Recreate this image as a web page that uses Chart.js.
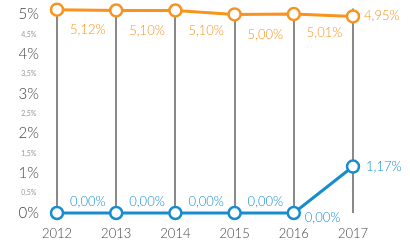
<!DOCTYPE html>
<html>
<head>
<meta charset="utf-8">
<script src="https://cdn.jsdelivr.net/npm/chart.js@4/dist/chart.umd.min.js"></script>
<style>
  html, body { margin: 0; padding: 0; background: #fff; }
  #wrap { width: 410px; height: 240px; }
</style>
</head>
<body>
<div id="wrap"><canvas id="grafico"></canvas></div>
<script>
const anos = ['2012', '2013', '2014', '2015', '2016', '2017'];
const serieLaranja = [5.12, 5.10, 5.10, 5.00, 5.01, 4.95];
const serieAzul = [0.00, 0.00, 0.00, 0.00, 0.00, 1.17];
const ticksY = [0, 0.5, 1, 1.5, 2, 2.5, 3, 3.5, 4, 4.5, 5];

const LARANJA = '#f7931e';
const AZUL = '#178dd0';

function formatarPct(v) {
    return v.toFixed(2).replace('.', ',') + '%';
}

// deslocamento de cada rótulo em relação ao ponto
const posLaranja = [[13, 20], [13, 20], [13, 20], [13, 20], [13, 19], [11, -1]];
const posAzul = [[13, -11], [13, -11], [13, -11], [13, -11], [11, 5], [13, 0]];

const rotulos = {
    id: 'rotulos',
    afterDatasetsDraw(chart) {
        const ctx = chart.ctx;
        ctx.save();
        ctx.font = '300 13px Lato';
        ctx.textAlign = 'left';
        ctx.textBaseline = 'middle';
        chart.data.datasets.forEach((ds, i) => {
            const meta = chart.getDatasetMeta(i);
            const pos = i === 0 ? posLaranja : posAzul;
            ctx.fillStyle = ds.borderColor;
            meta.data.forEach((pt, j) => {
                ctx.fillText(formatarPct(ds.data[j]), pt.x + pos[j][0], pt.y + pos[j][1]);
            });
        });
        ctx.restore();
    }
};

function criarDataset(label, valores, cor) {
    return {
        label,
        data: valores,
        borderColor: cor,
        backgroundColor: cor,
        borderWidth: 3,
        tension: 0,
        pointRadius: 6,
        pointBorderWidth: 2.5,
        pointBackgroundColor: '#fff',
        pointBorderColor: cor,
        clip: false
    };
}

new Chart(document.getElementById('grafico'), {
    type: 'line',
    data: {
        labels: anos,
        datasets: [
            criarDataset('Laranja', serieLaranja, LARANJA),
            criarDataset('Azul', serieAzul, AZUL)
        ]
    },
    options: {
        responsive: true,
        maintainAspectRatio: false,
        animation: false,
        layout: { padding: { top: 7, right: 57, left: 0, bottom: 0 } },
        plugins: { legend: { display: false }, tooltip: { enabled: false } },
        scales: {
            x: {
                offset: false,
                afterFit(scale) { scale.height = 27; },
                grid: { color: '#8a8a8a', lineWidth: 2, drawTicks: false },
                border: { display: false },
                ticks: { color: '#444', font: { family: 'Lato', size: 13, weight: '300' }, padding: 13 }
            },
            y: {
                min: 0,
                max: 5.15,
                afterFit(scale) {
                    scale.width = 57;
                    scale.paddingTop = 0;
                    scale.paddingBottom = 0;
                },
                afterBuildTicks(scale) { scale.ticks = ticksY.map(v => ({ value: v })); },
                grid: { display: false },
                border: { display: false },
                ticks: {
                    autoSkip: false,
                    crossAlign: 'center',
                    padding: 10,
                    callback(v) {
                        if (Number.isInteger(v)) return v + '%';
                        return String(v).replace('.', ',') + '%';
                    },
                    font(c) {
                        const v = c.tick ? c.tick.value : 0;
                        return Number.isInteger(v)
                            ? { family: 'Lato', size: 15, weight: '300' }
                            : { family: 'Lato', size: 7 };
                    },
                    color(c) {
                        const v = c.tick ? c.tick.value : 0;
                        return Number.isInteger(v) ? '#444' : '#999';
                    }
                }
            }
        }
    },
    plugins: [rotulos]
});
</script>
</body>
</html>
